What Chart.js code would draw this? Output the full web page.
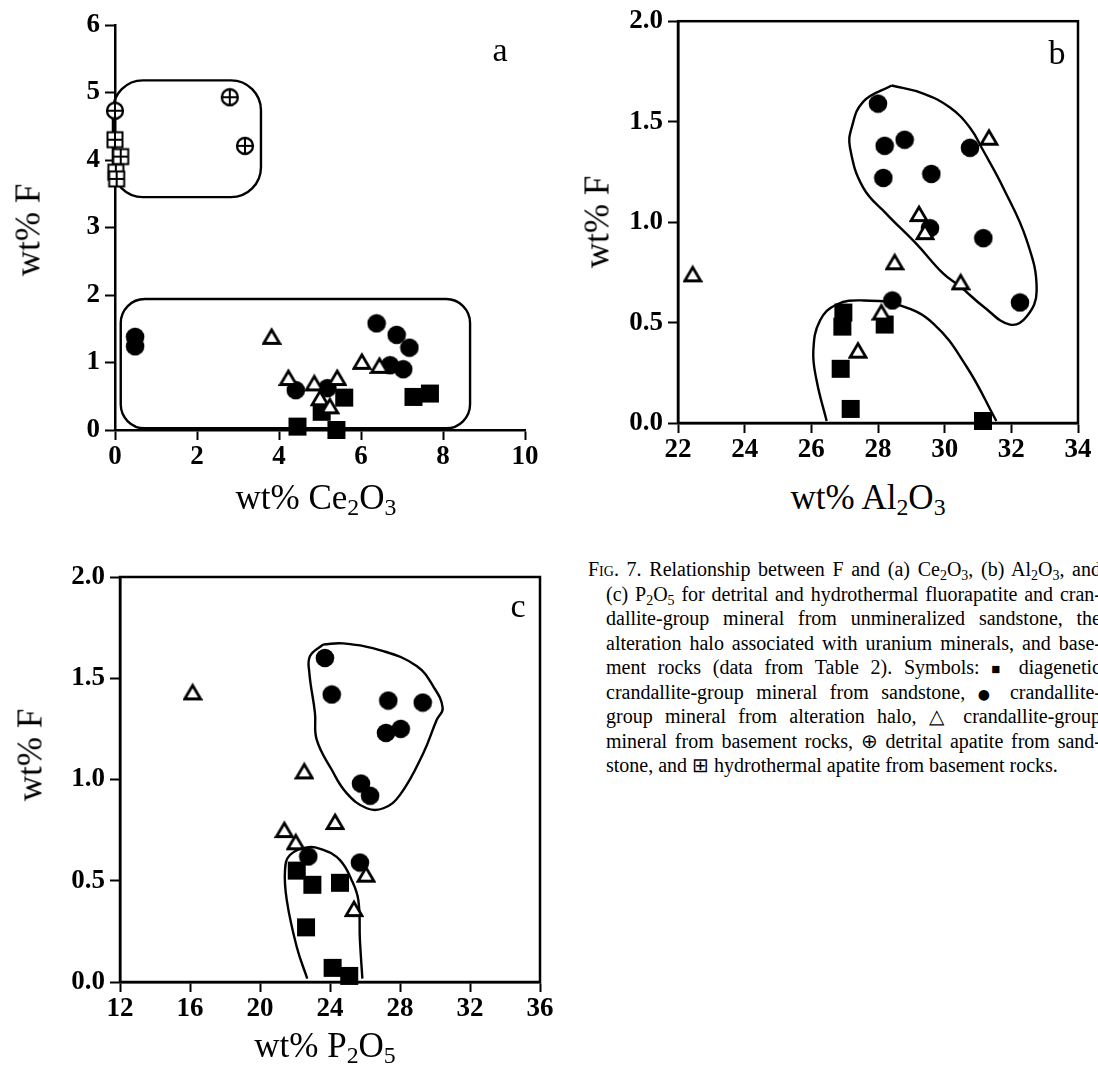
<!DOCTYPE html>
<html><head><meta charset="utf-8">
<script src="https://cdn.jsdelivr.net/npm/chart.js@4.4.1/dist/chart.umd.min.js"></script>
<style>
html,body{margin:0;padding:0;background:#fff;}
body{width:1098px;height:1073px;overflow:hidden;position:relative;font-family:"Liberation Serif","Times New Roman",serif;color:#000}
canvas{position:absolute}
.t{position:absolute;white-space:nowrap;font-size:35px;line-height:1;transform:translate(-50%,-50%)}
.yt{transform:translate(-50%,-50%) rotate(-90deg)}
.t sub{font-size:68%;vertical-align:-0.28em;line-height:0}
.lab{position:absolute;font-size:34px;line-height:1;transform:translate(-50%,-50%)}
.cap{position:absolute;font-size:20px;line-height:24.5px;left:0;top:0}
.cap div{position:absolute;text-align:justify;text-align-last:justify;height:24.5px}
.cap div.last{text-align:left;text-align-last:left;white-space:nowrap}
.cap sub{font-size:70%;vertical-align:-0.25em;line-height:0}
.sc{font-variant:small-caps}
.sm{font-size:75%}
.dot{font-family:"DejaVu Sans",sans-serif;font-size:70%}
</style>
</head><body>
<canvas id="pa" width="560" height="480" style="left:0;top:0"></canvas>
<canvas id="pb" width="528" height="460" style="left:570px;top:0"></canvas>
<canvas id="pc" width="580" height="490" style="left:0;top:540px"></canvas>

<div class="t" style="left:316px;top:497px">wt% Ce<sub>2</sub>O<sub>3</sub></div>
<div class="t yt" style="left:28px;top:230px">wt% F</div>
<div class="t" style="left:868px;top:497px">wt% Al<sub>2</sub>O<sub>3</sub></div>
<div class="t yt" style="left:597px;top:222px">wt% F</div>
<div class="t" style="left:325px;top:1045px">wt% P<sub>2</sub>O<sub>5</sub></div>
<div class="t yt" style="left:30px;top:755px">wt% F</div>

<div class="lab" style="left:500px;top:50px">a</div>
<div class="lab" style="left:1057px;top:53px">b</div>
<div class="lab" style="left:518px;top:606px">c</div>

<div class="cap">
<div style="left:588px;top:557px;width:513px"><span class="sc">Fig.</span> 7. Relationship between F and (a) Ce<sub>2</sub>O<sub>3</sub>, (b) Al<sub>2</sub>O<sub>3</sub>, and</div>
<div style="left:606px;top:581.5px;width:495px">(c) P<sub>2</sub>O<sub>5</sub> for detrital and hydrothermal fluorapatite and cran-</div>
<div style="left:606px;top:606px;width:495px">dallite-group mineral from unmineralized sandstone, the</div>
<div style="left:606px;top:630.5px;width:495px">alteration halo associated with uranium minerals, and base-</div>
<div style="left:606px;top:655px;width:495px">ment rocks (data from Table 2). Symbols: <span class="sm">■</span> diagenetic</div>
<div style="left:606px;top:679.5px;width:495px">crandallite-group mineral from sandstone, <span class="dot">●</span> crandallite-</div>
<div style="left:606px;top:704px;width:495px">group mineral from alteration halo, △ crandallite-group</div>
<div style="left:606px;top:728.5px;width:495px">mineral from basement rocks, ⊕ detrital apatite from sand-</div>
<div class="last" style="left:606px;top:753px;width:495px">stone, and ⊞ hydrothermal apatite from basement rocks.</div>
</div>

<script>
// ---------- Panel a: F vs Ce2O3 ----------
const aXTicks = [0, 2, 4, 6, 8, 10];
const aYTicks = [0, 1, 2, 3, 4, 5, 6];
const aSquareX = [4.45, 5.40, 5.04, 5.59, 7.28, 7.68];
const aSquareY = [0.05, 0.00, 0.27, 0.48, 0.49, 0.54];
const aCircleX = [0.49, 0.49, 6.38, 6.87, 7.18, 6.71, 7.03, 4.41, 5.18];
const aCircleY = [1.38, 1.24, 1.58, 1.41, 1.22, 0.96, 0.90, 0.59, 0.62];
const aTriangleX = [3.82, 6.02, 6.45, 4.23, 4.86, 5.42, 5.00, 5.24];
const aTriangleY = [1.38, 1.01, 0.95, 0.77, 0.69, 0.77, 0.47, 0.35];
const aOplusX = [0.00, 2.80, 3.17];
const aOplusY = [4.73, 4.93, 4.21];
const aBoxplusX = [0.00, 0.14, 0.02, 0.04];
const aBoxplusY = [4.30, 4.05, 3.82, 3.72];
// enclosing boxes: [xMin, xMax, yMin, yMax]
const aUpperBox = [-0.05, 3.56, 3.45, 5.18];
const aLowerBox = [0.14, 8.66, 0.025, 1.94];

// ---------- Panel b: F vs Al2O3 ----------
const bXTicks = [22, 24, 26, 28, 30, 32, 34];
const bYTicks = [0, 0.5, 1.0, 1.5, 2.0];
const bSquareX = [26.96, 26.93, 28.20, 26.88, 27.18, 31.15];
const bSquareY = [0.55, 0.48, 0.49, 0.27, 0.07, 0.01];
const bCircleX = [28.00, 28.20, 28.80, 30.76, 28.16, 29.60, 29.56, 31.16, 32.26, 28.43];
const bCircleY = [1.59, 1.38, 1.41, 1.37, 1.22, 1.24, 0.97, 0.92, 0.60, 0.61];
const bTriangleX = [31.33, 29.23, 29.41, 28.50, 30.48, 22.44, 28.10, 27.40];
const bTriangleY = [1.42, 1.04, 0.95, 0.80, 0.70, 0.74, 0.55, 0.36];
const bUpperCurveX = [28.41, 29.36, 30.16, 30.76, 31.16, 31.76, 32.46, 32.76, 32.46, 31.96, 31.16, 30.46, 29.96, 29.16, 28.26, 27.56, 27.16, 27.21, 27.56, 28.41];
const bUpperCurveY = [1.68, 1.64, 1.57, 1.47, 1.355, 1.17, 0.91, 0.66, 0.53, 0.49, 0.58, 0.68, 0.743, 0.89, 1.04, 1.17, 1.37, 1.47, 1.60, 1.68];
const bLowerCurveX = [26.46, 26.16, 26.06, 26.26, 26.76, 27.56, 28.66, 29.66, 30.66, 31.55];
const bLowerCurveY = [0.01, 0.21, 0.36, 0.51, 0.59, 0.61, 0.585, 0.495, 0.28, 0.01];

// ---------- Panel c: F vs P2O5 ----------
const cXTicks = [12, 16, 20, 24, 28, 32, 36];
const cYTicks = [0, 0.5, 1.0, 1.5, 2.0];
const cSquareX = [22.10, 22.99, 24.57, 22.63, 24.15, 25.10];
const cSquareY = [0.55, 0.48, 0.49, 0.27, 0.07, 0.03];
const cCircleX = [23.71, 24.10, 27.33, 29.30, 27.20, 28.04, 25.77, 26.29, 22.76, 25.71];
const cCircleY = [1.60, 1.42, 1.39, 1.38, 1.23, 1.25, 0.98, 0.92, 0.62, 0.59];
const cTriangleX = [16.15, 22.53, 24.29, 21.39, 22.04, 26.06, 25.37];
const cTriangleY = [1.43, 1.04, 0.79, 0.75, 0.69, 0.53, 0.36];
const cUpperCurveX = [23.62, 24.76, 27.05, 28.95, 29.90, 30.44, 30.10, 29.33, 28.00, 27.05, 26.10, 24.95, 24.10, 23.24, 23.14, 22.82, 22.86, 23.62];
const cUpperCurveY = [1.667, 1.672, 1.634, 1.56, 1.46, 1.353, 1.295, 1.13, 0.924, 0.858, 0.858, 0.933, 1.048, 1.197, 1.329, 1.527, 1.61, 1.667];
const cLowerCurveX = [22.70, 22.10, 21.53, 21.43, 21.71, 22.67, 23.62, 24.57, 25.24, 25.62, 25.71, 25.85];
const cLowerCurveY = [0.017, 0.173, 0.404, 0.553, 0.627, 0.665, 0.652, 0.602, 0.503, 0.404, 0.206, 0.017];

// ---------- marker images ----------
function marker(kind) {
  const s = 20, m = s / 2;
  const c = document.createElement('canvas');
  c.width = s; c.height = s;
  const g = c.getContext('2d');
  g.strokeStyle = '#000'; g.fillStyle = '#000';
  if (kind === 'square') { g.fillRect(1, 1, 18, 18); }
  if (kind === 'circle') { g.beginPath(); g.arc(m, m, 9.3, 0, Math.PI * 2); g.fill(); }
  if (kind === 'triangle') {
    g.beginPath(); g.moveTo(m, 3); g.lineTo(s - 2, s - 3.5); g.lineTo(2, s - 3.5); g.closePath();
    g.fillStyle = '#fff'; g.fill(); g.lineWidth = 2.8; g.lineJoin = 'miter'; g.stroke();
  }
  if (kind === 'oplus') {
    g.beginPath(); g.arc(m, m, 8, 0, Math.PI * 2); g.fillStyle = '#fff'; g.fill();
    g.lineWidth = 2.3; g.stroke();
    g.beginPath(); g.moveTo(m, 2); g.lineTo(m, s - 2); g.moveTo(2, m); g.lineTo(s - 2, m); g.lineWidth = 2; g.stroke();
  }
  if (kind === 'boxplus') {
    g.fillStyle = '#fff'; g.fillRect(2.5, 2.5, 15, 15);
    g.lineWidth = 2; g.strokeRect(2.5, 2.5, 15, 15);
    g.beginPath(); g.moveTo(m, 2.5); g.lineTo(m, 17.5); g.moveTo(2.5, m); g.lineTo(17.5, m); g.stroke();
  }
  return c;
}
const IMG = {square: marker('square'), circle: marker('circle'), triangle: marker('triangle'), oplus: marker('oplus'), boxplus: marker('boxplus')};

const zip = (xs, ys) => xs.map((x, i) => ({x: x, y: ys[i]}));

function pointSet(label, xs, ys, kind) {
  return {label: label, data: zip(xs, ys), pointStyle: IMG[kind], pointRadius: 9, pointHoverRadius: 9, showLine: false, clip: false};
}
function curveSet(label, xs, ys) {
  return {label: label, data: zip(xs, ys), showLine: true, pointRadius: 0, pointHoverRadius: 0, borderColor: '#000', borderWidth: 2.4, tension: 0.42, fill: false, clip: false};
}

const framePlugin = {
  id: 'frame',
  afterDraw(chart) {
    const a = chart.chartArea, g = chart.ctx;
    g.save(); g.strokeStyle = '#000'; g.lineWidth = 2.5;
    g.strokeRect(a.left, a.top, a.right - a.left, a.bottom - a.top);
    g.restore();
  }
};

function boxPlugin(boxes, radii) {
  return {
    id: 'boxes',
    beforeDatasetsDraw(chart) {
      const xs = chart.scales.x, ys = chart.scales.y, g = chart.ctx;
      g.save(); g.strokeStyle = '#000'; g.lineWidth = 2.4;
      boxes.forEach((b, i) => {
        const x0 = xs.getPixelForValue(b[0]), x1 = xs.getPixelForValue(b[1]);
        const y0 = ys.getPixelForValue(b[3]), y1 = ys.getPixelForValue(b[2]);
        g.beginPath(); g.roundRect(x0, y0, x1 - x0, y1 - y0, radii[i]); g.stroke();
      });
      g.restore();
    }
  };
}

const tickFont = {family: '"Liberation Serif", "Times New Roman", serif', weight: 'bold', size: 27};

function makeChart(id, datasets, sc, pad, plugins) {
  const axis = (ticks, min, max, fmt, isX, size) => ({
    type: 'linear', min: min, max: max,
    afterBuildTicks: s => { s.ticks = ticks.map(v => ({value: v})); },
    afterFit: s => { if (isX) s.height = size; else s.width = size; },
    ticks: {color: '#000', font: tickFont, padding: isX ? 1 : 5, callback: fmt, autoSkip: false, maxRotation: 0},
    grid: {display: true, drawOnChartArea: false, drawTicks: true, tickLength: 10, tickColor: '#000', tickWidth: 2},
    border: {display: true, color: '#000', width: 2.5}
  });
  return new Chart(document.getElementById(id), {
    type: 'scatter',
    data: {datasets: datasets},
    options: {
      responsive: false, animation: false, devicePixelRatio: 1,
      layout: {padding: pad, autoPadding: false},
      plugins: {legend: {display: false}, tooltip: {enabled: false}},
      events: [],
      scales: {
        x: axis(sc.xt, sc.xmin, sc.xmax, sc.xf, true, sc.xh),
        y: axis(sc.yt, sc.ymin, sc.ymax, sc.yf, false, sc.yw)
      }
    },
    plugins: plugins
  });
}

const intFmt = v => String(v);
const decFmt = v => Number(v).toFixed(1);

makeChart('pa', [
  pointSet('basement crandallite', aTriangleX, aTriangleY, 'triangle'),
  pointSet('detrital apatite', aOplusX, aOplusY, 'oplus'),
  pointSet('hydrothermal apatite', aBoxplusX, aBoxplusY, 'boxplus'),
  pointSet('alteration halo crandallite', aCircleX, aCircleY, 'circle'),
  pointSet('diagenetic crandallite', aSquareX, aSquareY, 'square')
], {xt: aXTicks, xmin: 0, xmax: 10, xf: intFmt, xh: 50, yt: aYTicks, ymin: 0, ymax: 6, yf: intFmt, yw: 115},
   {left: 0, top: 25, right: 35, bottom: 0}, [boxPlugin([aUpperBox, aLowerBox], [30, 24])]);

makeChart('pb', [
  pointSet('basement crandallite', bTriangleX, bTriangleY, 'triangle'),
  pointSet('alteration halo crandallite', bCircleX, bCircleY, 'circle'),
  pointSet('diagenetic crandallite', bSquareX, bSquareY, 'square'),
  curveSet('halo field', bUpperCurveX, bUpperCurveY),
  curveSet('sandstone field', bLowerCurveX, bLowerCurveY)
], {xt: bXTicks, xmin: 22, xmax: 34, xf: intFmt, xh: 37, yt: bYTicks, ymin: 0, ymax: 2, yf: decFmt, yw: 108},
   {left: 0, top: 20, right: 20, bottom: 0}, [framePlugin]);

makeChart('pc', [
  pointSet('basement crandallite', cTriangleX, cTriangleY, 'triangle'),
  pointSet('alteration halo crandallite', cCircleX, cCircleY, 'circle'),
  pointSet('diagenetic crandallite', cSquareX, cSquareY, 'square'),
  curveSet('halo field', cUpperCurveX, cUpperCurveY),
  curveSet('sandstone field', cLowerCurveX, cLowerCurveY)
], {xt: cXTicks, xmin: 12, xmax: 36, xf: intFmt, xh: 48, yt: cYTicks, ymin: 0, ymax: 2, yf: decFmt, yw: 120},
   {left: 0, top: 37, right: 40, bottom: 0}, [framePlugin]);
</script>
</body></html>
